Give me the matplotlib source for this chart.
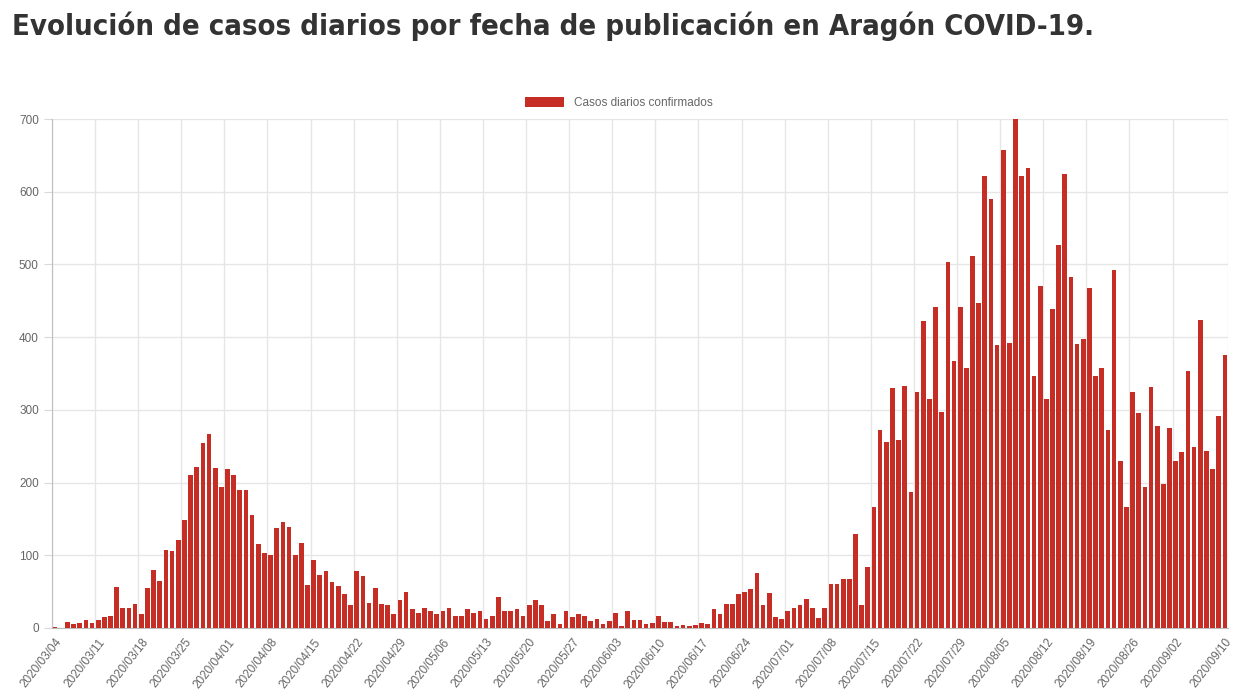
import numpy as np
import matplotlib
matplotlib.use("Agg")
import matplotlib.pyplot as plt
from datetime import date, timedelta

# Casos diarios confirmados, 2020/03/04 .. 2020/09/10
casos = [
    1, 0, 8, 6, 7, 11, 7, 11, 15, 16,
    57, 27, 27, 33, 19, 55, 80, 64, 107, 106,
    121, 149, 210, 222, 255, 267, 220, 194, 219, 210,
    190, 190, 155, 116, 103, 100, 137, 146, 139, 101,
    117, 59, 94, 73, 79, 63, 58, 47, 31, 78,
    72, 35, 55, 33, 31, 19, 39, 50, 26, 20,
    28, 24, 19, 24, 27, 16, 17, 26, 20, 23,
    13, 17, 43, 24, 23, 26, 17, 31, 38, 31,
    10, 19, 5, 23, 15, 19, 17, 9, 12, 6,
    9, 20, 3, 23, 11, 11, 5, 7, 16, 8,
    8, 3, 4, 3, 4, 7, 6, 26, 19, 33,
    33, 47, 50, 54, 76, 31, 48, 15, 12, 23,
    27, 31, 40, 28, 14, 27, 60, 60, 68, 68,
    129, 32, 84, 166, 272, 256, 330, 258, 333, 187,
    324, 422, 315, 441, 297, 503, 367, 441, 357, 512,
    447, 621, 590, 389, 658, 392, 700, 621, 633, 347,
    471, 315, 439, 527, 625, 483, 390, 397, 467, 347,
    357, 272, 493, 230, 166, 325, 296, 194, 332, 278,
    198, 275, 230, 242, 354, 249, 423, 244, 218, 291,
    375,
]
inicio = date(2020, 3, 4)
fechas = [(inicio + timedelta(days=i)).strftime("%Y/%m/%d") for i in range(len(casos))]

# etiquetas del eje x (cada 7 dias + la ultima)
idx_etiquetas = list(range(0, len(casos) - 7, 7)) + [len(casos) - 1]

titulo = "Evolución de casos diarios por fecha de publicación en Aragón COVID-19."
serie = "Casos diarios confirmados"
rojo = "#c62d25"
gris = "#666666"

W, H = 1248, 698
fig = plt.figure(figsize=(W / 100, H / 100), dpi=100)
ax = fig.add_axes([52 / W, (H - 628) / H, 1176 / W, 509 / H])

x = np.arange(len(casos))
ax.bar(x, casos, width=0.76, color=rojo, label=serie, zorder=3)

ax.set_xlim(-0.5, len(casos) - 0.5)
ax.set_ylim(0, 700)
ax.set_yticks(range(0, 701, 100))
ax.tick_params(axis="y", labelsize=8.5, labelcolor=gris, color="#d9d9d9", length=6)
ax.set_xticks(idx_etiquetas)
ax.set_xticklabels([fechas[i] for i in idx_etiquetas], rotation=52, ha="right",
                   rotation_mode="anchor", fontsize=8.5, color=gris)
ax.tick_params(axis="x", length=0, pad=6)

# rejilla vertical entre barras, como en chart.js
for i in idx_etiquetas[:-1] + [len(casos) - 1]:
    ax.axvline(i - 0.5 if i != len(casos) - 1 else len(casos) - 0.5,
               color="#e6e6e6", lw=1, zorder=0)
ax.yaxis.grid(True, color="#e6e6e6", lw=1, zorder=0)
for s in ["top", "right"]:
    ax.spines[s].set_visible(False)
ax.spines["left"].set_color("#bdbdbd")
ax.spines["bottom"].set_color("#bdbdbd")
for lab in ax.get_yticklabels():
    lab.set_family("Liberation Sans")
for lab in ax.get_xticklabels():
    lab.set_family("Liberation Sans")

leg = fig.legend(loc="center", bbox_to_anchor=(619 / W, 1 - 103 / H), frameon=False,
                 handlelength=3.3, handleheight=1.0, prop={"family": "Liberation Sans", "size": 8.5})
for t in leg.get_texts():
    t.set_color(gris)

t = fig.text(12 / W, 1 - 26 / H, titulo, fontsize=26, fontweight="bold",
             fontstretch="condensed", family="DejaVu Sans", color="#333333",
             ha="left", va="center")
fig.canvas.draw()
ancho = t.get_window_extent().width
t.set_fontsize(26 * 1083 / ancho)

fig.savefig("out.png", dpi=100)
